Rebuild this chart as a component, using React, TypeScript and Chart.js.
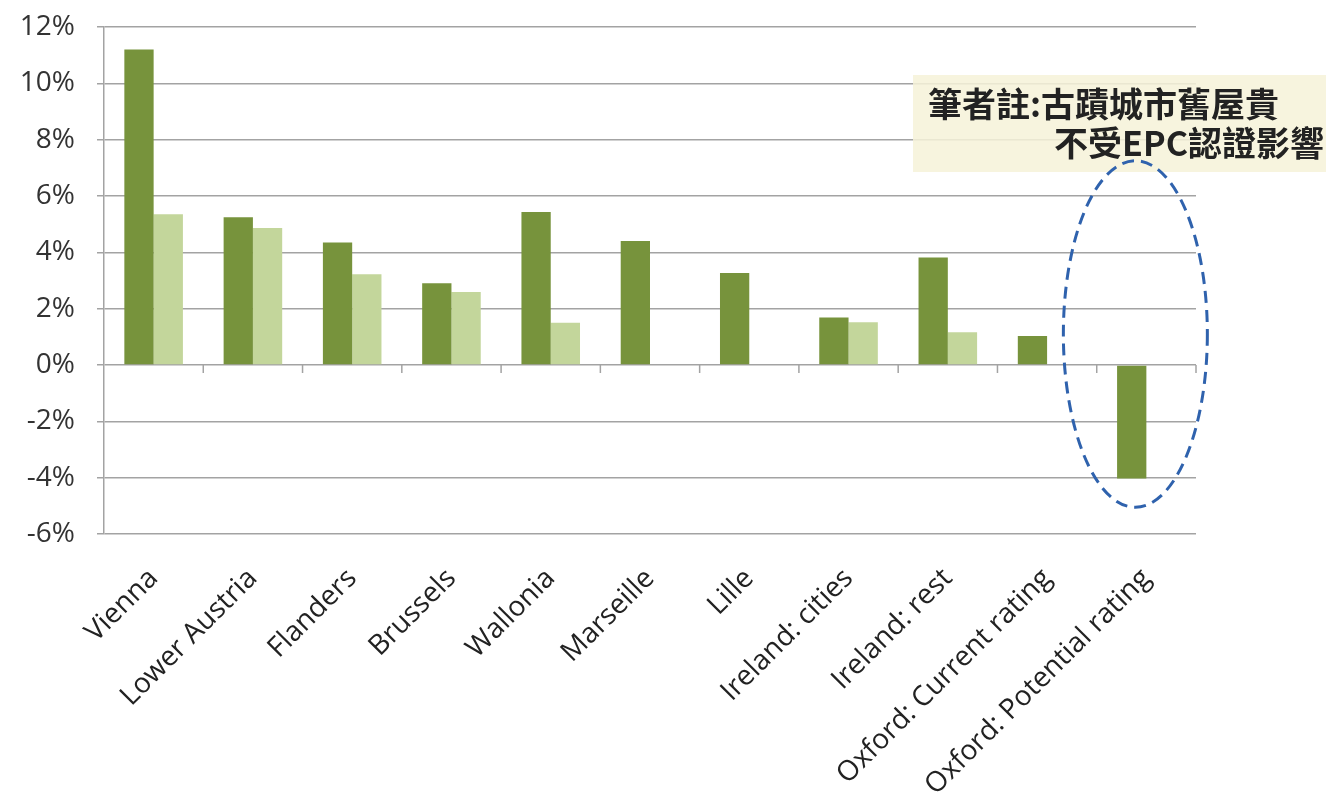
import React, { useEffect, useRef } from "react";
import { Chart, registerables } from "chart.js";

Chart.register(...registerables);

const categories = [
  "Vienna",
  "Lower Austria",
  "Flanders",
  "Brussels",
  "Wallonia",
  "Marseille",
  "Lille",
  "Ireland: cities",
  "Ireland: rest",
  "Oxford: Current rating",
  "Oxford: Potential rating",
];
const seriesDark = [11.2, 5.25, 4.35, 2.9, 5.43, 4.4, 3.27, 1.69, 3.82, 1.03, -4.03];
const seriesLight = [5.35, 4.86, 3.22, 2.59, 1.5, null, null, 1.52, 1.16, null, null];
const yMin = -6;
const yMax = 12;
const yStep = 2;
const noteLine1 = "筆者註:古蹟城市舊屋貴";
const noteLine2 = "不受EPC認證影響";

const GRID = "#a3a3a3";

const annotationPlugin = {
  id: "annot",
  afterDraw(chart: any) {
    const ctx = chart.ctx as CanvasRenderingContext2D;
    const x = chart.scales.x;
    const y = chart.scales.y;
    const zeroY = y.getPixelForValue(0);
    ctx.save();
    // tick marks on the zero line at category boundaries
    ctx.strokeStyle = GRID;
    ctx.lineWidth = 1.5;
    for (let i = 0; i < categories.length; i++) {
      const bx = (x.getPixelForValue(i) + x.getPixelForValue(i + 1)) / 2;
      const px = i === categories.length - 1 ? chart.chartArea.right : bx;
      ctx.beginPath();
      ctx.moveTo(px, zeroY);
      ctx.lineTo(px, zeroY + 8);
      ctx.stroke();
    }
    // note box
    ctx.fillStyle = "rgba(246,242,216,0.86)";
    ctx.fillRect(913, 75, 1326 - 913, 97);
    ctx.fillStyle = "#222";
    ctx.font = "bold 34px 'Noto Sans CJK TC'";
    ctx.textBaseline = "middle";
    ctx.textAlign = "left";
    ctx.fillText(noteLine1, 928, 104);
    ctx.textAlign = "right";
    ctx.fillText(noteLine2, 1324, 143);
    // dashed ellipse
    const cx = x.getPixelForValue(10) - 11;
    const top = y.getPixelForValue(7.25);
    const bottom = y.getPixelForValue(-5.05);
    ctx.strokeStyle = "#2f62ad";
    ctx.lineWidth = 3;
    ctx.setLineDash([12, 7]);
    ctx.beginPath();
    ctx.ellipse(cx, (top + bottom) / 2, 72, (bottom - top) / 2, 0, 0, Math.PI * 2);
    ctx.stroke();
    ctx.restore();
  },
};

export default function App() {
  const ref = useRef<HTMLCanvasElement>(null);
  useEffect(() => {
    document.body.style.margin = "0";
    const chart = new Chart(ref.current!, {
      type: "bar",
      data: {
        labels: categories,
        datasets: [
          {
            data: seriesDark,
            backgroundColor: "#77933c",
            categoryPercentage: 0.59,
            barPercentage: 1,
          },
          {
            data: seriesLight as any,
            backgroundColor: "#c3d69b",
            categoryPercentage: 0.59,
            barPercentage: 1,
          },
        ],
      },
      options: {
        animation: false,
        responsive: false,
        layout: { padding: { top: 27, right: 130, left: 0, bottom: 0 } },
        plugins: { legend: { display: false }, tooltip: { enabled: false } },
        scales: {
          x: {
            grid: { display: false },
            border: { display: false },
            afterFit: (s: any) => {
              s.height = 801 - 534;
              s.paddingLeft = 0;
              s.paddingRight = 0;
            },
            ticks: {
              maxRotation: 45,
              minRotation: 45,
              padding: 20,
              color: "#222",
              font: { family: "'Open Sans'", size: 28 },
              autoSkip: false,
            },
          },
          y: {
            min: yMin,
            max: yMax,
            afterFit: (s: any) => {
              s.width = 104;
              s.paddingTop = 0;
              s.paddingBottom = 0;
            },
            grid: { color: GRID, lineWidth: 1.5, tickLength: 7 },
            border: { color: GRID, width: 1.5 },
            ticks: {
              stepSize: yStep,
              padding: 22,
              color: "#333",
              font: { family: "'Open Sans'", size: 28 },
              callback: (v: any) => `${v}%`,
            },
          },
        },
      },
      plugins: [annotationPlugin],
    });
    return () => chart.destroy();
  }, []);
  return (
    <div style={{ position: "absolute", left: 0, top: 0, width: 1326, height: 801, background: "#fff" }}>
      <canvas ref={ref} width={1326} height={801} />
    </div>
  );
}
